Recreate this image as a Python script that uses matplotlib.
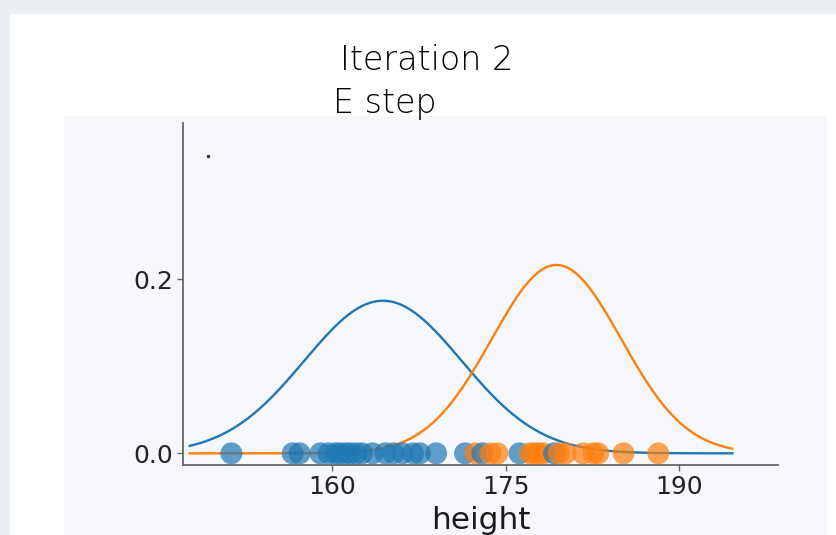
import numpy as np
import matplotlib
matplotlib.use("Agg")
import matplotlib.pyplot as plt
from matplotlib.patches import Rectangle

# heights assigned to each cluster
blue_heights = [151.3, 156.6, 157.2, 159.0, 159.7, 160.3, 160.7, 161.2,
                161.6, 162.1, 162.6, 163.5, 164.6, 165.3, 166.1, 167.0,
                167.6, 169.0, 171.5, 173.0, 176.2, 179.2]
orange_heights = [172.4, 173.7, 174.3, 177.1, 177.5, 177.9, 178.3, 179.6,
                  180.2, 181.7, 182.6, 183.0, 185.2, 188.2]

# scaled gaussian components: (centre, spread, peak height)
blue_component = (164.4, 6.8, 0.1754)
orange_component = (179.4, 5.6, 0.2165)
curve_range = (147.7, 194.6)

stray_dot = (149.3, 0.342)

title_lines = ["Iteration 2", "E step"]
xticks = [160, 175, 190]
yticks = [0.0, 0.2]

BLUE = "#1f77b4"
ORANGE = "#ff7f0e"


def bump(x, centre, spread, peak):
    return peak * np.exp(-(x - centre) ** 2 / (2 * spread ** 2))


fig = plt.figure(figsize=(8.36, 5.35), dpi=100, facecolor="#eceff2")
W, H = 836, 535
# white slide panel and the lighter video frame behind the plot
fig.patches.append(Rectangle((10 / W, 0), 1, 1 - 14 / H, transform=fig.transFigure,
                             facecolor="white", edgecolor="none", zorder=-10))
fig.patches.append(Rectangle((64 / W, 0), (827 - 64) / W, 1 - 116 / H,
                             transform=fig.transFigure,
                             facecolor="#f5f7fa", edgecolor="none", zorder=-9))

fig.text(340 / W, 1 - 60 / H, title_lines[0], fontsize=24, va="center",
         ha="left", color="black", family="DejaVu Sans", fontweight="light")
fig.text(333 / W, 1 - 103 / H, title_lines[1], fontsize=24, va="center",
         ha="left", color="black", family="DejaVu Sans", fontweight="light")

ax = fig.add_axes([183 / W, 1 - 465 / H, (778 - 183) / W, (465 - 122.7) / H])
ax.patch.set_alpha(0)

xs = np.linspace(curve_range[0], curve_range[1], 300)
ax.plot(xs, bump(xs, *blue_component), color=BLUE, lw=1.7, zorder=2)
ax.plot(xs, bump(xs, *orange_component), color=ORANGE, lw=1.7, zorder=2)

pts = sorted([(h, BLUE) for h in blue_heights] +
             [(h, ORANGE) for h in orange_heights])
ax.scatter([p[0] for p in pts], np.zeros(len(pts)), s=250,
           c=[p[1] for p in pts], alpha=0.7, edgecolors="none", zorder=3)

ax.plot([stray_dot[0]], [stray_dot[1]], "o", color="#333333", ms=1.5)

ax.set_xlim(147.12, 198.55)
ax.set_ylim(-0.0134, 0.38)
ax.set_xticks(xticks)
ax.set_yticks(yticks)
ax.set_yticklabels([f"{v:.1f}" for v in yticks])
ax.tick_params(labelsize=18, labelcolor="#222222", length=4, width=1,
               color="#666666", pad=3)
ax.set_xlabel("height", fontsize=22.5, color="#1a1a1a", labelpad=5)
for side in ["top", "right"]:
    ax.spines[side].set_visible(False)
for side in ["left", "bottom"]:
    ax.spines[side].set_color("#666666")
    ax.spines[side].set_linewidth(1.3)

fig.savefig("out.png", dpi=100, facecolor=fig.get_facecolor())
